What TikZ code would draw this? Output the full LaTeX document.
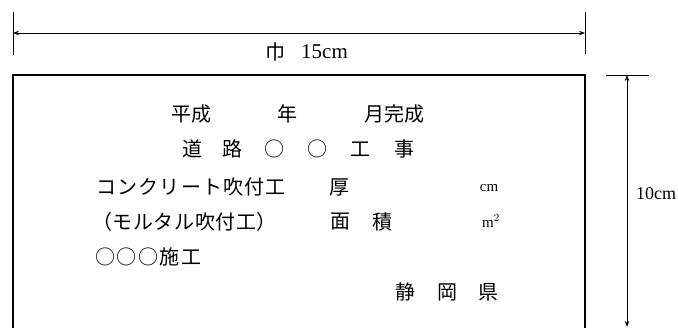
\documentclass[tikz,border=0pt]{standalone}
\usepackage{fontspec}
\setmainfont{Liberation Serif}
\newfontfamily\jpfont{Noto Sans CJK JP}
\usetikzlibrary{arrows.meta}

\begin{document}
\begin{tikzpicture}
[x = 1pt, y = -1pt,
every node/.style = {inner sep=0pt},
jp/.style = {font={\jpfont\fontsize{20}{24}\selectfont}},
lat/.style = {font={\fontsize{21}{24}\selectfont}},
side/.style = {font={\fontsize{18}{20}\selectfont}},
unit/.style = {font={\fontsize{15}{18}\selectfont}},
tickline/.style = {line width=0.8pt},
dimline/.style = {line width=0.9pt, {Stealth[length=6pt,width=4.5pt]}-{Stealth[length=6pt,width=4.5pt]}},
plate/.style = {line width=1.3pt}]
\useasboundingbox (0,0) rectangle (678,328);
\coordinate (wl) at (13,33);
\coordinate (wr) at (585,33);
\coordinate (ht) at (627,75);
\coordinate (hb) at (627,327);
\draw[tickline] (13,12) -- (13,55);
\draw[tickline] (585,12) -- (585,54);
\draw[tickline] (606,75) -- (649,75);
\draw[dimline] (wl) -- (wr);
\draw[dimline] (ht) -- (hb);
\draw[plate] (13,335) -- (13,75) -- (585,75) -- (585,335);
\node[jp] (haba) at (275,52) {巾};
\node[lat,anchor=west] (w15) at (301,52) {15cm};
\node[side,anchor=west] (h10) at (636,194) {10cm};
\node[jp] (heisei) at (191,114) {平成};
\node[jp] (nen) at (287,114) {年};
\node[jp] (kansei) at (394,114) {月完成};
\node[jp] (dou) at (192,149) {道};
\node[jp] (ro) at (232,149) {路};
\node[jp] (maru1) at (274,149) {○};
\node[jp] (maru2) at (317,149) {○};
\node[jp] (kou) at (360,149) {工};
\node[jp] (ji) at (404,149) {事};
\node[jp,anchor=west] (concrete) at (96,187) {\addfontfeature{LetterSpace=6}コンクリート吹付工};
\node[jp] (atsu) at (339,187) {厚};
\node[unit] (cm) at (489,188) {cm};
\node[jp,anchor=west] (mortar) at (92,222) {\addfontfeature{LetterSpace=3}（モルタル吹付工）};
\node[jp] (men) at (340,222) {面};
\node[jp] (seki) at (382,222) {積};
\node[unit] (m2) at (491,221) {m$^2$};
\node[jp,anchor=west] (sekou) at (95,257) {\addfontfeature{LetterSpace=8}○○○施工};
\node[jp] (shizu) at (405,292) {静};
\node[jp] (oka) at (447,292) {岡};
\node[jp] (ken) at (488,292) {県};
\end{tikzpicture}
\end{document}
